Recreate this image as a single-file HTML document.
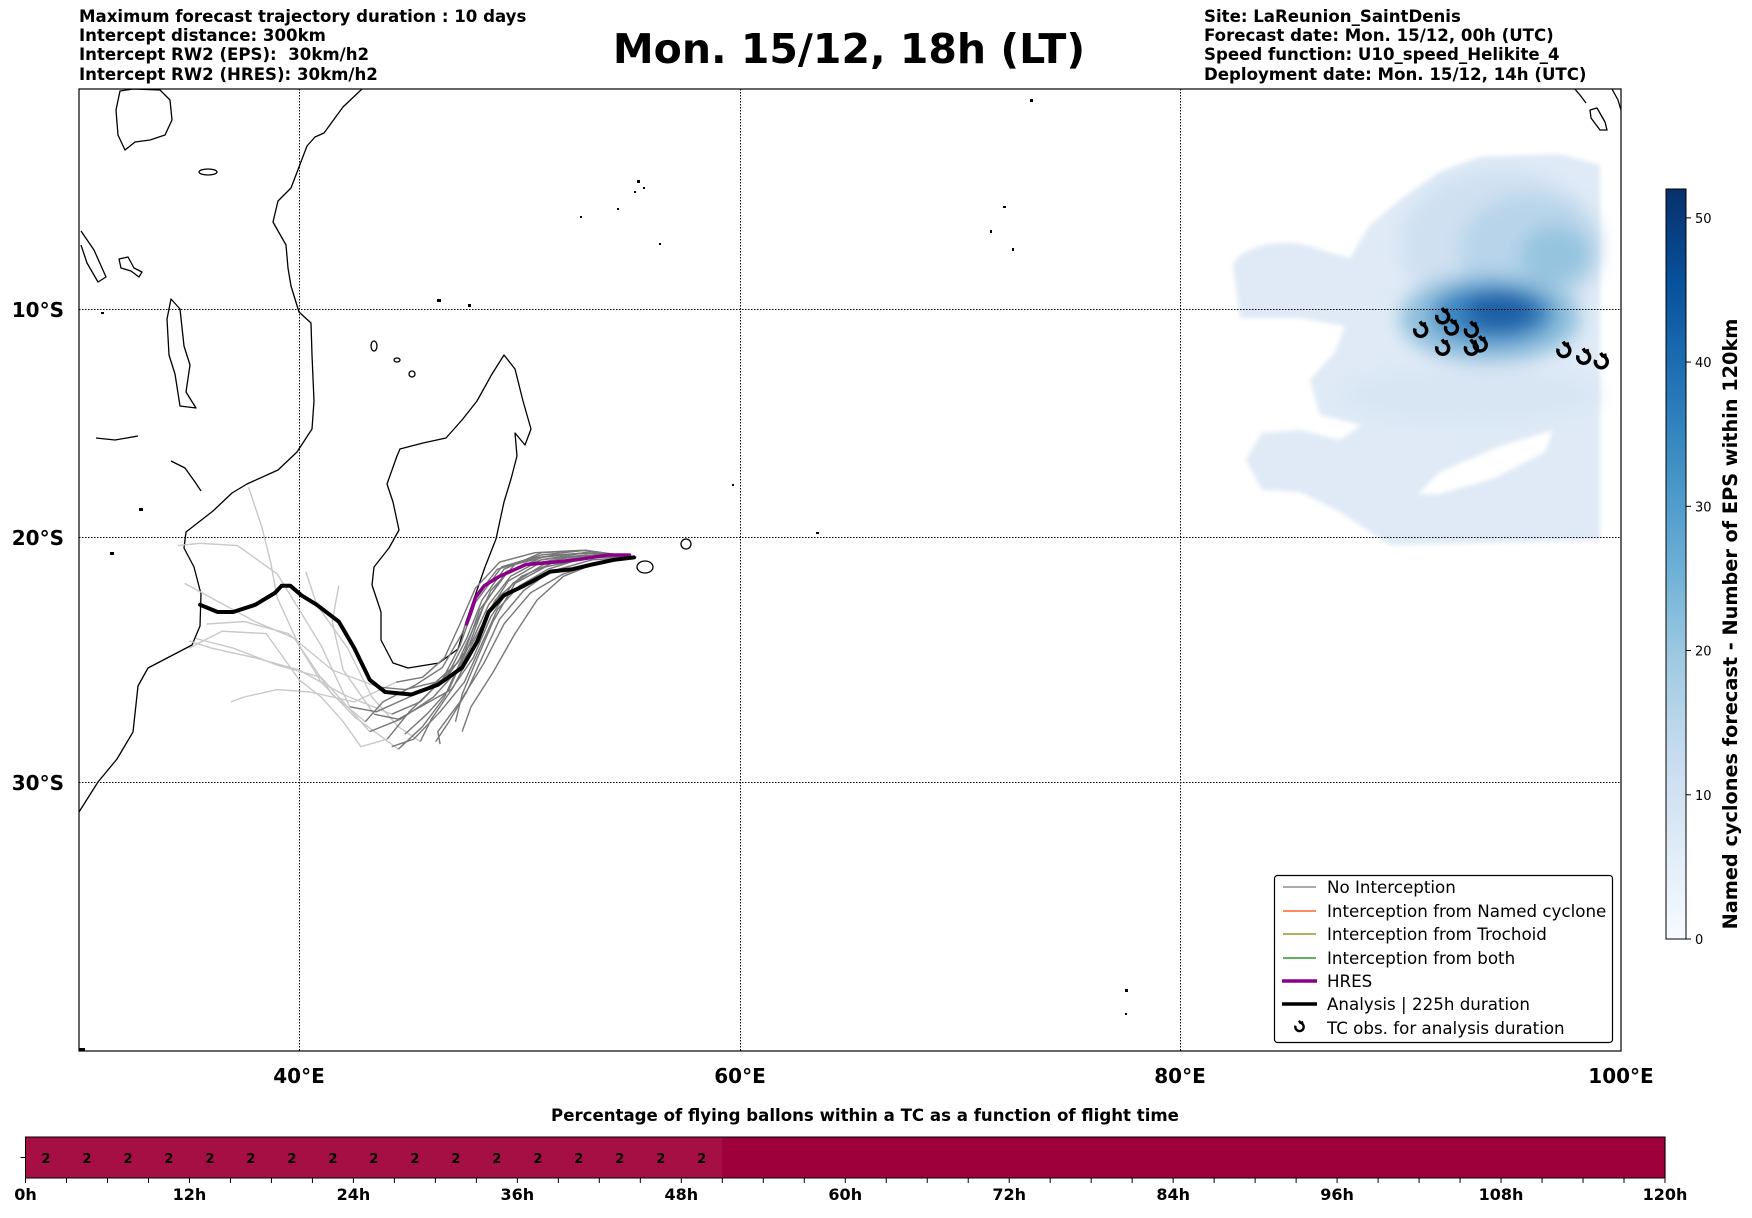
<!DOCTYPE html>
<html><head><meta charset="utf-8"><style>
html,body{margin:0;padding:0;background:#fff;}
svg text{font-family:"DejaVu Sans","Liberation Sans",sans-serif;}
</style></head><body>
<svg id="fig" width="1752" height="1213" viewBox="0 0 1752 1213" xmlns="http://www.w3.org/2000/svg">
<defs>
<filter id="blur8" x="-50%" y="-50%" width="200%" height="200%"><feGaussianBlur stdDeviation="9"/></filter>
<filter id="blur3" x="-20%" y="-20%" width="140%" height="140%"><feGaussianBlur stdDeviation="2.5"/></filter>
<linearGradient id="blues" x1="0" y1="1" x2="0" y2="0">
<stop offset="0" stop-color="#f7fbff"/><stop offset="0.125" stop-color="#deebf7"/><stop offset="0.25" stop-color="#c6dbef"/><stop offset="0.375" stop-color="#9ecae1"/><stop offset="0.5" stop-color="#6baed6"/><stop offset="0.625" stop-color="#4292c6"/><stop offset="0.75" stop-color="#2171b5"/><stop offset="0.875" stop-color="#08519c"/><stop offset="1" stop-color="#08306b"/>
</linearGradient>
<clipPath id="mapclip"><rect x="79" y="89" width="1542" height="962"/></clipPath>
<symbol id="tc" viewBox="-10 -10 20 20" overflow="visible"><path d="M-5,-2 A6,6 0 1 0 2,-6 L0,-9 M2,-6 L6,-7" fill="none" stroke="#000" stroke-width="3.4" stroke-linecap="butt"/></symbol>
</defs>

<g font-size="16.6" font-weight="bold">
<text x="79" y="22">Maximum forecast trajectory duration : 10 days</text>
<text x="79" y="41">Intercept distance: 300km</text>
<text x="79" y="60" xml:space="preserve">Intercept RW2 (EPS):  30km/h2</text>
<text x="79" y="80">Intercept RW2 (HRES): 30km/h2</text>
</g>
<text x="849" y="63" font-size="41" font-weight="bold" text-anchor="middle">Mon. 15/12, 18h (LT)</text>
<g font-size="16.6" font-weight="bold">
<text x="1204" y="22">Site: LaReunion_SaintDenis</text>
<text x="1204" y="41">Forecast date: Mon. 15/12, 00h (UTC)</text>
<text x="1204" y="60">Speed function: U10_speed_Helikite_4</text>
<text x="1204" y="80">Deployment date: Mon. 15/12, 14h (UTC)</text>
</g>

<g id="map" clip-path="url(#mapclip)">
<g id="density">
<path filter="url(#blur3)" fill="#dfeaf6" d="M1233,265 C1240,245 1290,235 1320,250 L1350,258 L1370,225 L1400,200 L1440,172 L1480,157 L1560,154 L1600,165 L1600,540 L1390,545 L1340,512 L1300,492 L1262,490 L1246,460 L1262,433 L1300,430 L1340,440 L1362,425 L1320,415 L1310,380 L1335,352 L1345,326 L1300,318 L1240,318 Z"/>
<path fill="#fff" d="M1418,494 L1440,472 L1500,446 L1553,430 L1545,452 L1495,478 L1440,494 Z" filter="url(#blur3)"/>
<g filter="url(#blur8)">
<ellipse cx="1500" cy="245" rx="100" ry="75" fill="#cfe0f1"/>
<ellipse cx="1470" cy="395" rx="130" ry="30" fill="#d8e6f4"/>
<ellipse cx="1530" cy="250" rx="70" ry="55" fill="#b7d4ea"/>
<ellipse cx="1555" cy="255" rx="35" ry="28" fill="#95c4df"/>
<ellipse cx="1490" cy="318" rx="90" ry="45" fill="#8ebfdd"/>
<ellipse cx="1493" cy="314" rx="62" ry="30" fill="#3d88c2"/>
<ellipse cx="1500" cy="312" rx="36" ry="18" fill="#1a5fa5"/>
</g>
</g>

<g stroke="#000" stroke-width="1" stroke-dasharray="1.5,1.5">
<line x1="299.5" y1="89" x2="299.5" y2="1051"/>
<line x1="740.5" y1="89" x2="740.5" y2="1051"/>
<line x1="1180.5" y1="89" x2="1180.5" y2="1051"/>
<line x1="79" y1="309.5" x2="1621" y2="309.5"/>
<line x1="79" y1="537.5" x2="1621" y2="537.5"/>
<line x1="79" y1="782.5" x2="1621" y2="782.5"/>
</g>

<g fill="none" stroke="#000" stroke-width="1.3" stroke-linejoin="round">
<path d="M362,89 L343,107 L324,133 L315,137 L307,146 L299,167 L291,188 L278,201 L273,222 L286,245 L288,268 L291,286 L299,312 L311,323 L312,355 L314,401 L312,429 L297,452 L278,470 L247,484 L232,493 L213,511 L186,532 L184,548 L194,567 L201,594 L200,626 L192,645 L148,668 L138,686 L133,732 L117,759 L98,782 L79,812"/>
<path d="M504,355 L515,369 L523,401 L531,429 L525,445 L515,433 L517,456 L511,479 L504,502 L496,539 L485,567 L466,622 L458,649 L439,663 L408,668 L393,663 L381,640 L381,612 L372,585 L374,567 L389,548 L399,530 L393,502 L387,484 L397,456 L400,449 L423,443 L446,438 L462,420 L477,401 L492,374 Z"/>
<path d="M171,299 L180,309 L184,346 L190,365 L186,392 L196,408 L180,406 L175,374 L169,355 L167,319 Z"/>
<path d="M81,231 L94,250 L106,277 L98,282 L87,263 L81,245"/>
<path d="M119,259 L128,257 L134,268 L142,272 L139,277 L131,271 L121,268 Z"/>
<path d="M120,91 L133,89 L160,90 L170,100 L172,120 L165,135 L150,140 L135,142 L125,150 L118,135 L116,110 Z"/>
<path d="M96,438 L115,440 L138,436"/>
<path d="M171,461 L185,468 L195,482 L201,491"/>
<path d="M1590,110 L1597,108 L1605,122 L1607,130 L1600,130 L1591,118 Z M1573,87 L1580,95 L1586,103 M1612,89 L1618,100 L1621,110"/>
<ellipse cx="645" cy="567" rx="8" ry="6"/>
<ellipse cx="686" cy="544" rx="5" ry="5"/>
<ellipse cx="374" cy="346" rx="3" ry="5"/>
<ellipse cx="397" cy="360" rx="3" ry="2"/>
<ellipse cx="412" cy="374" rx="3" ry="3"/>
<ellipse cx="208" cy="172" rx="9" ry="3"/>
</g>
<g fill="#000">
<rect x="637" y="180" width="3" height="3"/><rect x="643" y="187" width="2" height="2"/><rect x="634" y="191" width="2" height="2"/><rect x="1030" y="99" width="3" height="3"/><rect x="1003" y="206" width="3" height="2"/><rect x="990" y="230" width="2" height="3"/><rect x="1012" y="248" width="2" height="3"/><rect x="1125" y="989" width="3" height="3"/><rect x="1125" y="1013" width="2" height="2"/><rect x="816" y="532" width="3" height="2"/><rect x="437" y="299" width="4" height="3"/><rect x="468" y="304" width="3" height="3"/><rect x="580" y="216" width="2" height="2"/><rect x="617" y="208" width="2" height="2"/><rect x="659" y="243" width="2" height="2"/><rect x="732" y="484" width="2" height="2"/><rect x="101" y="312" width="3" height="2"/><rect x="139" y="508" width="4" height="3"/><rect x="110" y="552" width="4" height="3"/><rect x="79" y="1048" width="6" height="3"/>
</g>

<g id="tracks"></g>
<g id="tcobs"></g>
</g>
<rect x="79" y="89" width="1542" height="962" fill="none" stroke="#000" stroke-width="1.2"/>

<g font-size="20" font-weight="bold" text-anchor="middle">
<text x="299" y="1083">40°E</text>
<text x="740" y="1083">60°E</text>
<text x="1180" y="1083">80°E</text>
<text x="1621" y="1083">100°E</text>
</g>
<g font-size="20" font-weight="bold" text-anchor="end">
<text x="64" y="317">10°S</text>
<text x="64" y="545">20°S</text>
<text x="64" y="790">30°S</text>
</g>

<g font-size="16.7">
<rect x="1274.5" y="875.5" width="338" height="167" rx="3" fill="#fff" fill-opacity="0.9" stroke="#000" stroke-width="1.2"/>
<g><line x1="1283" y1="887" x2="1316" y2="887" stroke="#777" stroke-width="1.2"/><text x="1327" y="893">No Interception</text></g>
<g><line x1="1283" y1="911" x2="1316" y2="911" stroke="#ff4500" stroke-width="1.2"/><text x="1327" y="917">Interception from Named cyclone</text></g>
<g><line x1="1283" y1="934" x2="1316" y2="934" stroke="#808000" stroke-width="1.2"/><text x="1327" y="940">Interception from Trochoid</text></g>
<g><line x1="1283" y1="958" x2="1316" y2="958" stroke="#008000" stroke-width="1.2"/><text x="1327" y="964">Interception from both</text></g>
<g><line x1="1282" y1="981" x2="1317" y2="981" stroke="#8b008b" stroke-width="3.5"/><text x="1327" y="987">HRES</text></g>
<g><line x1="1282" y1="1004" x2="1317" y2="1004" stroke="#000" stroke-width="3.5"/><text x="1327" y="1010">Analysis | 225h duration</text></g>
<g><use href="#tc" x="1292" y="1020" width="14" height="14"/><text x="1327" y="1034">TC obs. for analysis duration</text></g>
</g>

<g id="colorbar">
<rect x="1666" y="189" width="20" height="750" fill="url(#blues)" stroke="#000" stroke-width="1"/>
<g id="cbticks" font-size="13"></g>
<text transform="translate(1737,624) rotate(-90)" font-size="19.3" font-weight="bold" text-anchor="middle">Named cyclones forecast - Number of EPS within 120km</text>
</g>

<text x="865" y="1121" font-size="16.6" font-weight="bold" text-anchor="middle">Percentage of flying ballons within a TC as a function of flight time</text>
<g id="timebar"></g>
</svg>

<script>
const analysisLon = [55.2,54.3,53.3,52.4,51.4,50.2,49.3,48.6,48.1,47.4,46.3,45.1,43.9,43.2,42.5,41.8,40.8,40.1,39.6,39.2,38.9,38.0,37.0,36.3,35.5];
const analysisLat = [20.8,20.9,21.1,21.3,21.4,22.0,22.4,23.1,24.3,25.4,26.1,26.5,26.4,25.9,24.6,23.5,22.8,22.4,22.0,22.0,22.3,22.8,23.1,23.1,22.8];
const hresLon = [55.0,54.0,52.6,51.6,50.3,49.1,48.4,48.0,47.8,47.6];
const hresLat = [20.7,20.7,20.9,21.0,21.1,21.6,22.0,22.5,23.1,23.6];
const epsDark = [
 [[55.3,20.8],[53,20.5],[51,20.6],[49.3,21.3],[48.3,22.6],[47.6,24.2],[46.8,25.6],[45.5,26.8],[44.2,27.3]],
 [[55.3,20.8],[53,20.7],[51,21.0],[49.5,21.8],[48.5,23.2],[47.8,24.8],[47,26.2],[46,27.5],[45.5,28.4]],
 [[55.3,20.8],[54,20.9],[52,21.5],[50.5,22.3],[49.3,23.6],[48.4,25.2],[47.3,26.8],[46.3,28.0],[46.4,28.5]],
 [[55.3,20.8],[53,20.6],[51,20.9],[49.6,21.6],[48.6,22.8],[47.8,24.4],[46.7,25.8],[45,26.6],[43.5,27.2],[42.3,27.0]],
 [[55.3,20.8],[53,20.5],[51,20.7],[49.2,21.2],[48,22.7],[47.3,24.5],[46.5,25.9],[45,27.2],[44,28.3]],
 [[55.3,20.8],[53.2,20.8],[51.2,21.2],[49.8,21.9],[48.8,23.5],[48,25.2],[47.4,26.5],[47.1,27.6]],
 [[55.3,20.8],[53,20.6],[50.8,20.8],[49,21.3],[48,22.5],[47.4,24],[46.5,25.4],[45.3,26.1],[43.8,26.8],[43,27.6]],
 [[55.3,20.8],[53,20.7],[51,20.9],[49.4,21.4],[48.4,22.8],[47.7,24.5],[46.8,26.3],[45.8,27.3],[44.8,28.1]],
 [[55.3,20.8],[53.5,20.6],[51.5,20.7],[49.8,21.1],[48.7,22.2],[47.9,23.8],[47.2,25.2],[46.2,26.0],[44.8,26.3],[43.6,26.2]],
 [[55.3,20.8],[53,20.8],[51.3,21.3],[50,22.0],[49,23.0],[48.2,24.6],[47.5,26.0],[46.4,27.2],[45.2,28.3],[44.2,28.6]],
 [[55.3,20.8],[53.4,20.7],[51.6,21.0],[50.1,21.6],[48.9,22.6],[48.1,24.0],[47.3,25.4],[46.1,26.6],[44.6,27.5],[43.2,28.0]],
 [[55.3,20.8],[52.8,20.5],[50.7,20.6],[49.1,21.0],[48.0,22.1],[47.3,23.6],[46.6,25.0],[45.6,25.8],[44.4,26.0]],
 [[55.3,20.8],[53.6,21.0],[52,21.6],[50.8,22.6],[49.8,24.0],[48.8,25.6],[47.8,27.0],[47.4,28.0]],
 [[55.3,20.8],[53,20.6],[51,20.8],[49.4,21.5],[48.2,23.0],[47.5,24.8],[46.6,26.6],[45.6,27.8],[44.5,28.7]],
 [[55.3,20.8],[53.2,20.7],[51.1,21.1],[49.7,21.9],[48.7,23.3],[47.9,25.0],[46.9,26.3],[45.7,26.9],[44.5,27.5],[43.4,27.3]],
 [[55.3,20.8],[53.3,20.9],[51.4,21.4],[50.2,22.2],[49.1,23.4],[48.3,25.0],[47.6,26.4],[46.8,27.6],[46.2,28.4]]
];
const epsLight = [
 [[44.2,27.3],[42,26.5],[40,25.5],[38,25],[36,24.6],[35,24.3]],
 [[43.6,26.2],[41.5,25.5],[39.5,24],[37.5,23.5],[35.8,23.6]],
 [[44.4,26.0],[42.5,26.8],[40.5,26.4],[39,26.3],[37.5,26.6],[36.9,26.8]],
 [[43,27.6],[41.5,26.5],[40,24.5],[39,22.5],[38.7,21.0],[38.3,19.5],[37.7,17.8]],
 [[42.3,27.0],[41,24.5],[40,23],[39,21.5],[37.2,20.3],[35.5,20.2],[34.5,20.3]],
 [[43.4,27.3],[42,25.5],[41.5,23.5],[41.8,22.0]],
 [[44.5,28.7],[42.5,27.4],[41,26],[39.8,24.2],[38,23.5],[36,22.5],[34.8,21.9]],
 [[43.2,28.0],[41,25.8],[39,25.3],[37,24.6],[35.3,24.2]],
 [[44.0,28.3],[42.8,28.6],[42.0,27.6],[41,26.6],[40,25.9],[38.5,24.0],[36.5,23.9],[35.0,24.6]],
 [[45.5,28.4],[44.5,27.8],[43.3,26.6],[42.2,24.6],[40.8,22.8],[40.3,21.4]]
];
const tcLon = [90.9,91.9,92.3,93.2,91.9,93.2,93.6,97.4,98.3,99.1];
const tcLat = [10.9,10.3,10.8,10.9,11.7,11.7,11.55,11.8,12.1,12.3];
const cbTicks = [0,10,20,30,40,50];
const hoursLabels = [0,12,24,36,48,60,72,84,96,108,120];
const pctValues = [2,2,2,2,2,2,2,2,2,2,2,2,2,2,2,2,2,0,0,0,0,0,0,0,0,0,0,0,0,0,0,0,0,0,0,0,0,0,0,0];

const NS = 'http://www.w3.org/2000/svg';
function px(lon){ return 79 + (lon - 30) * 22.02; }
function py(lat){ const r = lat * Math.PI / 180; return 89 + 1261.6 * Math.log(Math.tan(Math.PI/4 + r/2)); }
function mk(tag, attrs, parent){ const e = document.createElementNS(NS, tag); for (const k in attrs) e.setAttribute(k, attrs[k]); parent.appendChild(e); return e; }
function ptsFromPairs(arr){ return arr.map(p => px(p[0]).toFixed(1) + ',' + py(p[1]).toFixed(1)).join(' '); }
function ptsFromLists(lo, la){ return lo.map((v,i) => px(v).toFixed(1) + ',' + py(la[i]).toFixed(1)).join(' '); }

const tracks = document.getElementById('tracks');
epsLight.forEach((m, i) => {
  const el = mk('polyline', {points: ptsFromPairs(m), fill:'none', stroke:'#c8c8c8', 'stroke-width':'1.4', 'stroke-linejoin':'round'}, tracks);
  
  
});
epsDark.forEach((m, i) => {
  const el = mk('polyline', {points: ptsFromPairs(m), fill:'none', stroke:'#777777', 'stroke-width':'1.4', 'stroke-linejoin':'round'}, tracks);
  
  
});
const hres = mk('polyline', {points: ptsFromLists(hresLon, hresLat), fill:'none', stroke:'#8b008b', 'stroke-width':'3.5', 'stroke-linejoin':'round', 'stroke-linecap':'round'}, tracks);


const ana = mk('polyline', {points: ptsFromLists(analysisLon, analysisLat), fill:'none', stroke:'#000', 'stroke-width':'4', 'stroke-linejoin':'round', 'stroke-linecap':'round'}, tracks);



const tcg = document.getElementById('tcobs');
tcLon.forEach((lo, i) => {
  const u = mk('use', {href:'#tc', x:(px(lo)-10).toFixed(1), y:(py(tcLat[i])-10).toFixed(1), width:'20', height:'20'}, tcg);
  
  
});

const cbg = document.getElementById('cbticks');
const cbMax = 52;
cbTicks.forEach(v => {
  const y = 939 - v / cbMax * 750;
  const t = mk('line', {x1:1686, x2:1691, y1:y, y2:y, stroke:'#000'}, cbg);
  
  
  const tx = mk('text', {x:1695, y:y+5}, cbg);
  tx.textContent = v;
  
  
});

const tb = document.getElementById('timebar');
const bx0 = 25.5, bx1 = 1665, by0 = 1137, by1 = 1178;
const cellW = (bx1 - bx0) / pctValues.length;
function hx(h){ return bx0 + h / 120 * (bx1 - bx0); }
pctValues.forEach((v, i) => {
  const r = mk('rect', {x:bx0 + i*cellW, y:by0, width:cellW + 0.6, height:by1-by0, fill: v > 0 ? '#a50f43' : '#9e003b'}, tb);
  
  
  if (v > 0) {
    const t = mk('text', {x:bx0 + (i+0.5)*cellW, y:by0 + 26, 'font-size':'13', 'font-weight':'bold', 'text-anchor':'middle'}, tb);
    t.textContent = v;
    
    
  }
});
const fr = mk('rect', {x:bx0, y:by0, width:bx1-bx0, height:by1-by0, fill:'none', stroke:'#000', 'stroke-width':'1'}, tb);


const yt = mk('line', {x1:bx0-5, x2:bx0, y1:(by0+by1)/2, y2:(by0+by1)/2, stroke:'#000'}, tb);


for (let i = 0; i <= pctValues.length; i++) {
  const x = bx0 + i*cellW;
  const l = mk('line', {x1:x, x2:x, y1:by1, y2:by1+5, stroke:'#000'}, tb);
  
  
}
hoursLabels.forEach(h => {
  const t = mk('text', {x:hx(h), y:1200, 'font-size':'16', 'font-weight':'bold', 'text-anchor':'middle'}, tb);
  t.textContent = h + 'h';
  
  
});
</script>
</body></html>
